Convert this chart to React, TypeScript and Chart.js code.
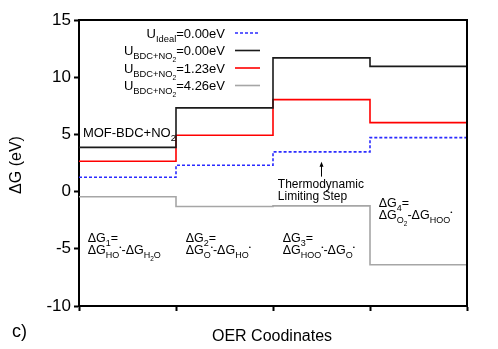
import React, { useEffect, useRef } from 'react';
import { Chart, registerables } from 'chart.js';

Chart.register(...registerables);

// ---- data ----
const stepX = [0, 1, 2, 3, 4];
const idealVals = [1.25, 2.3, 3.47, 4.72];
const u000Vals = [3.87, 7.32, 11.69, 10.95];
const u123Vals = [2.65, 4.92, 8.04, 6.03];
const u426Vals = [-0.45, -1.3, -1.25, -6.4];
const yMin = -10;
const yMax = 15;
const yStep = 5;
const legendLabels = [
  'U_{Ideal}=0.00eV',
  'U_{BDC+NO_{2}}=0.00eV',
  'U_{BDC+NO_{2}}=1.23eV',
  'U_{BDC+NO_{2}}=4.26eV',
];
const stepLabels = [
  ['ΔG_{1}=', 'ΔG_{HO}^{•}-ΔG_{H_{2}O}'],
  ['ΔG_{2}=', 'ΔG_{O}^{•}-ΔG_{HO}^{•}'],
  ['ΔG_{3}=', 'ΔG_{HOO}^{•}-ΔG_{O}^{•}'],
  ['ΔG_{4}=', 'ΔG_{O_{2}}-ΔG_{HOO}^{•}'],
];
const mofLabel = 'MOF-BDC+NO_{2}';
const limitingLabel = ['Thermodynamic', 'Limiting Step'];
const xTitle = 'OER Coodinates';
const yTitle = 'ΔG (eV)';
const panelLabel = 'c)';

const FONT = '"Liberation Sans", Arial, Helvetica, sans-serif';

type Seg = { text: string; level: number[] };

function parseRich(s: string): Seg[] {
  const out: Seg[] = [];
  const stack: number[] = [];
  let buf = '';
  const flush = () => {
    if (buf) out.push({ text: buf, level: stack.slice() });
    buf = '';
  };
  let i = 0;
  while (i < s.length) {
    const c = s[i];
    if ((c === '_' || c === '^') && s[i + 1] === '{') {
      flush();
      stack.push(c === '_' ? 1 : -1);
      i += 2;
      continue;
    }
    if (c === '}') {
      flush();
      stack.pop();
      i++;
      continue;
    }
    buf += c;
    i++;
  }
  flush();
  return out;
}

function segMetrics(base: number, level: number[]) {
  let size = base;
  let dy = 0;
  for (const l of level) {
    if (l > 0) {
      dy += size * 0.32;
      size *= 0.72;
    } else {
      dy -= size * 0.38;
      size *= 0.5;
    }
  }
  return { size, dy };
}

function richWidth(ctx: CanvasRenderingContext2D, s: string, base: number) {
  let w = 0;
  for (const seg of parseRich(s)) {
    const { size } = segMetrics(base, seg.level);
    ctx.font = `${size}px ${FONT}`;
    w += ctx.measureText(seg.text).width;
  }
  return w;
}

function drawRich(
  ctx: CanvasRenderingContext2D,
  s: string,
  x: number,
  y: number,
  base: number,
  align: 'left' | 'right' | 'center' = 'left'
) {
  const w = richWidth(ctx, s, base);
  let cx = x;
  if (align === 'right') cx = x - w;
  if (align === 'center') cx = x - w / 2;
  ctx.textAlign = 'left';
  ctx.textBaseline = 'alphabetic';
  for (const seg of parseRich(s)) {
    const { size, dy } = segMetrics(base, seg.level);
    ctx.font = `${size}px ${FONT}`;
    ctx.fillText(seg.text, cx, y + dy);
    cx += ctx.measureText(seg.text).width;
  }
}

const styles = [
  { color: '#2b2bff', width: 1.6, dash: [3, 2] },
  { color: '#1a1a1a', width: 1.6, dash: [] as number[] },
  { color: '#ff0000', width: 1.6, dash: [] as number[] },
  { color: '#a6a6a6', width: 1.6, dash: [] as number[] },
];

// each step level is held from stepX[i] to stepX[i+1]
function toSteps(vals: number[]) {
  const pts: { x: number; y: number }[] = [];
  vals.forEach((v, i) => {
    pts.push({ x: stepX[i], y: v });
    pts.push({ x: stepX[i + 1], y: v });
  });
  return pts;
}

const annotationPlugin = {
  id: 'annotations',
  afterDraw(chart: any) {
    const ctx: CanvasRenderingContext2D = chart.ctx;
    const { left, right, top, bottom } = chart.chartArea;
    const xs = chart.scales.x;
    const ys = chart.scales.y;
    ctx.save();
    // frame top/right
    ctx.strokeStyle = '#000';
    ctx.lineWidth = 2;
    ctx.beginPath();
    ctx.moveTo(left, top);
    ctx.lineTo(right, top);
    ctx.lineTo(right, bottom);
    ctx.stroke();

    ctx.fillStyle = '#000';
    // legend
    const rowOffsets = [13, 30.5, 48, 65.5];
    legendLabels.forEach((lab, i) => {
      const ry = top + rowOffsets[i];
      drawRich(ctx, lab, left + 146, ry + 4.5, 13, 'right');
      const st = styles[i];
      ctx.save();
      ctx.strokeStyle = st.color;
      ctx.lineWidth = st.width;
      ctx.setLineDash(st.dash);
      ctx.beginPath();
      ctx.moveTo(left + 156, ry);
      ctx.lineTo(left + 181, ry);
      ctx.stroke();
      ctx.restore();
    });

    ctx.fillStyle = '#000';
    // MOF label
    drawRich(ctx, mofLabel, xs.getPixelForValue(0.04), ys.getPixelForValue(4.76), 13);

    // step labels
    const stepPos = [
      [0.09, -4.37],
      [1.1, -4.37],
      [2.1, -4.37],
      [3.09, -1.31],
    ];
    stepLabels.forEach((lines, i) => {
      const px = xs.getPixelForValue(stepPos[i][0]);
      const py = ys.getPixelForValue(stepPos[i][1]);
      drawRich(ctx, lines[0], px, py, 12.5);
      drawRich(ctx, lines[1], px, py + 12.5, 12.5);
    });

    // limiting step text + arrow
    const lx = xs.getPixelForValue(2.05);
    const ly = ys.getPixelForValue(0.32);
    drawRich(ctx, limitingLabel[0], lx, ly, 12);
    drawRich(ctx, limitingLabel[1], lx, ly + 12.5, 12);
    const ax = xs.getPixelForValue(2.5);
    const ay0 = ys.getPixelForValue(1.31);
    const ay1 = ys.getPixelForValue(2.62);
    ctx.strokeStyle = '#000';
    ctx.lineWidth = 1;
    ctx.beginPath();
    ctx.moveTo(ax, ay0);
    ctx.lineTo(ax, ay1 + 3);
    ctx.stroke();
    ctx.beginPath();
    ctx.moveTo(ax, ay1);
    ctx.lineTo(ax - 2, ay1 + 5);
    ctx.lineTo(ax + 2, ay1 + 5);
    ctx.closePath();
    ctx.fill();

    // axis titles
    ctx.font = `16px ${FONT}`;
    ctx.textAlign = 'center';
    ctx.textBaseline = 'alphabetic';
    ctx.fillText(xTitle, (left + right) / 2 - 1, 341);
    ctx.save();
    ctx.translate(21, 165);
    ctx.rotate(-Math.PI / 2);
    ctx.fillText(yTitle, 0, 0);
    ctx.restore();
    ctx.font = `18px ${FONT}`;
    ctx.textAlign = 'left';
    ctx.fillText(panelLabel, 12, 337);
    ctx.restore();
  },
};

export default function App() {
  const ref = useRef<HTMLCanvasElement | null>(null);
  useEffect(() => {
    if (!ref.current) return;
    const valueSets = [idealVals, u000Vals, u123Vals, u426Vals];
    const chart = new Chart(ref.current, {
      type: 'line',
      data: {
        datasets: valueSets.map((vals, i) => ({
          label: legendLabels[i],
          data: toSteps(vals),
          borderColor: styles[i].color,
          borderWidth: styles[i].width,
          borderDash: styles[i].dash,
          pointRadius: 0,
          fill: false,
          tension: 0,
        })),
      },
      options: {
        responsive: false,
        animation: false,
        events: [],
        layout: { padding: { top: 20, right: 31, left: 0, bottom: 0 } },
        plugins: { legend: { display: false }, tooltip: { enabled: false } },
        scales: {
          x: {
            type: 'linear',
            min: stepX[0],
            max: stepX[stepX.length - 1],
            ticks: { stepSize: 1, callback: () => '', autoSkip: false },
            grid: {
              drawOnChartArea: false,
              drawTicks: true,
              tickLength: 5,
              tickColor: '#000',
              tickWidth: 2,
              color: '#000',
            },
            border: { display: true, color: '#000', width: 2 },
            afterFit: (scale: any) => {
              scale.height = 43;
            },
          },
          y: {
            type: 'linear',
            min: yMin,
            max: yMax,
            ticks: {
              stepSize: yStep,
              color: '#000',
              font: { family: FONT, size: 17 },
              padding: 3,
            },
            grid: {
              drawOnChartArea: false,
              drawTicks: true,
              tickLength: 5,
              tickColor: '#000',
              tickWidth: 2,
              color: '#000',
            },
            border: { display: true, color: '#000', width: 2 },
            afterFit: (scale: any) => {
              scale.width = 79;
            },
          },
        },
      },
      plugins: [annotationPlugin],
    });
    return () => chart.destroy();
  }, []);
  return (
    <div style={{ position: 'fixed', left: 0, top: 0, width: 498, height: 349, background: '#fff' }}>
      <canvas ref={ref} width={498} height={349} style={{ width: 498, height: 349 }} />
    </div>
  );
}
